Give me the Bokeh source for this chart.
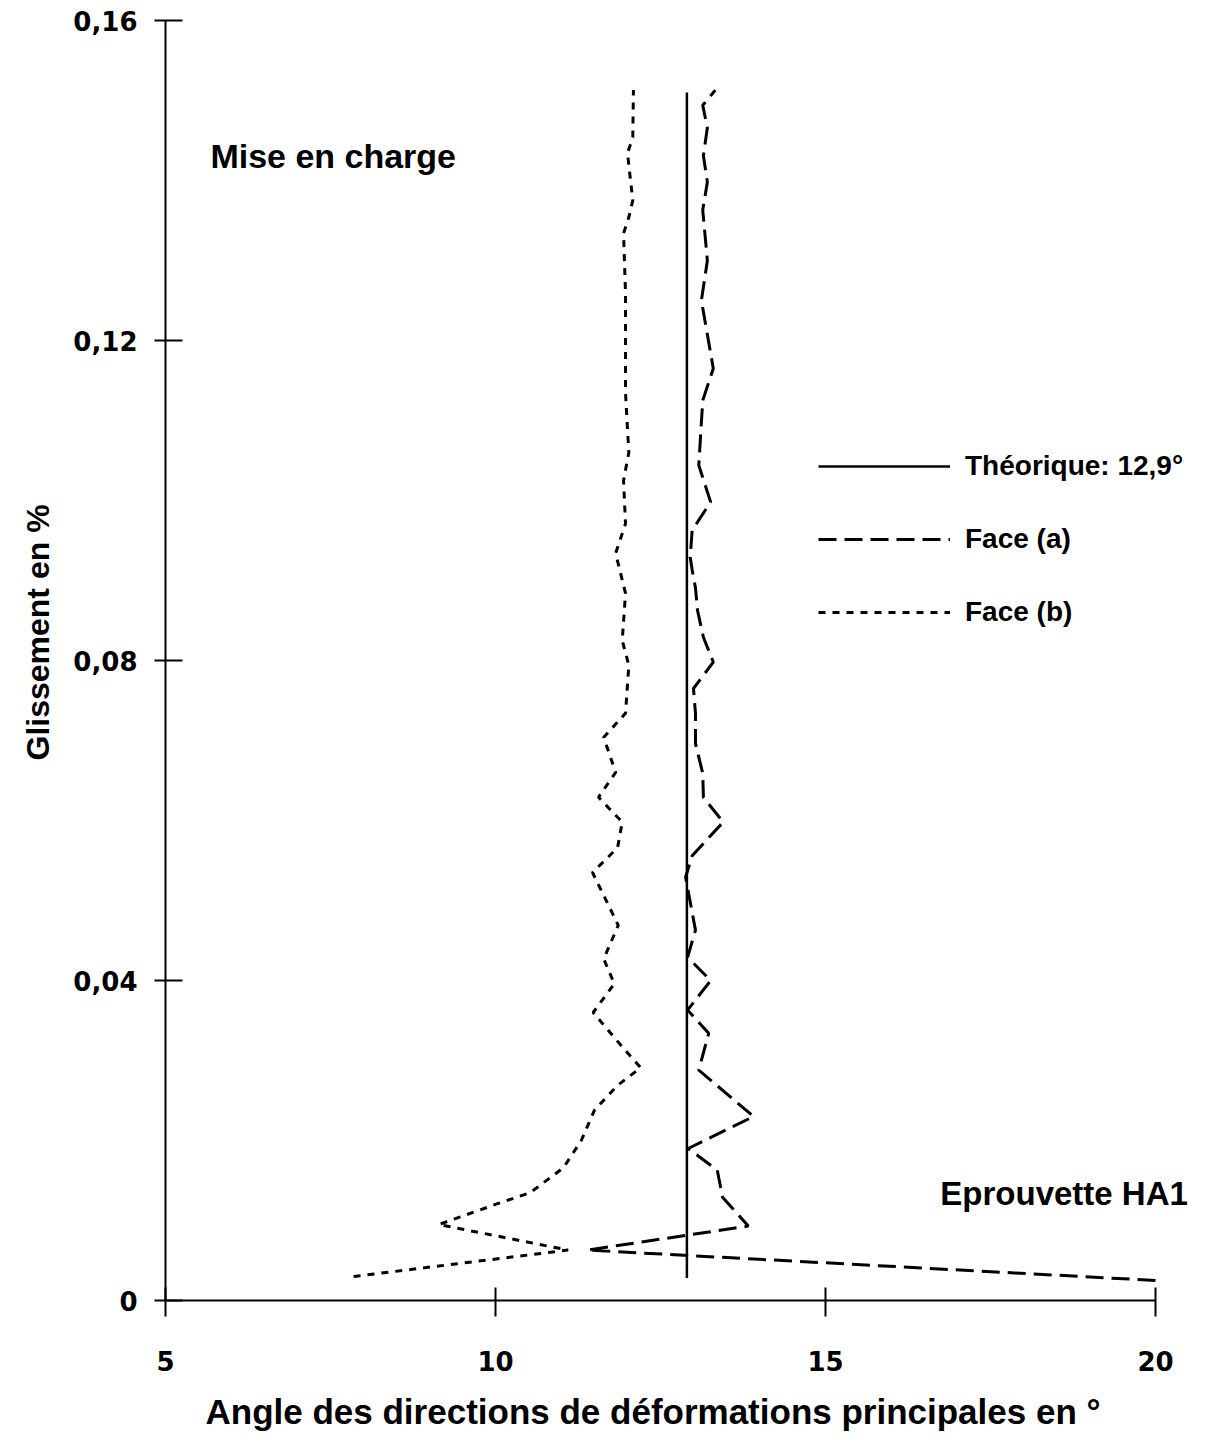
from bokeh.plotting import figure
from bokeh.models import Range1d, FixedTicker, Label, Legend, LegendItem, Title
from bokeh.embed import file_html
from bokeh.resources import INLINE

# ---------------- data ----------------
theo_angle = [12.9, 12.9]
theo_glis = [0.0028, 0.151]

face_a_angle = [20.0, 11.39, 13.83, 13.44, 13.36, 12.92, 13.91, 13.08, 13.23, 12.91,
                13.26, 12.91, 13.03, 12.88, 12.98, 13.45, 13.15, 13.14, 13.03, 13.03,
                13.00, 13.30, 13.15, 13.06, 13.03, 12.98, 12.95, 12.98, 13.26, 13.08,
                13.14, 13.30, 13.12, 13.21, 13.14, 13.21, 13.15, 13.21, 13.14, 13.33]
face_a_glis = [0.0025, 0.0063, 0.0093, 0.0129, 0.0163, 0.0190, 0.0230, 0.0288, 0.0334, 0.0363,
               0.0400, 0.0429, 0.0463, 0.0529, 0.0556, 0.0598, 0.0629, 0.0659, 0.0696, 0.0734,
               0.0765, 0.0798, 0.0829, 0.0863, 0.0891, 0.0913, 0.0929, 0.0963, 0.0998, 0.1044,
               0.1125, 0.1165, 0.1250, 0.1300, 0.1363, 0.1398, 0.1431, 0.1466, 0.1494, 0.1513]

face_b_angle = [7.85, 11.10, 9.14, 10.03, 10.53, 11.03, 11.30, 11.50, 11.85, 12.20,
                11.90, 11.48, 11.80, 11.64, 11.86, 11.47, 11.85, 11.92, 11.56, 11.82,
                11.64, 11.97, 12.02, 11.92, 11.97, 11.82, 11.97, 11.94, 12.02, 11.97,
                11.97, 11.94, 12.02, 12.08, 12.00, 12.08, 12.09]
face_b_glis = [0.0030, 0.0063, 0.0095, 0.0121, 0.0135, 0.0166, 0.0200, 0.0238, 0.0269, 0.0291,
               0.0319, 0.0360, 0.0396, 0.0427, 0.0469, 0.0535, 0.0566, 0.0598, 0.0629, 0.0660,
               0.0704, 0.0734, 0.0794, 0.0825, 0.0884, 0.0934, 0.0971, 0.1025, 0.1060, 0.1134,
               0.1259, 0.1334, 0.1354, 0.1375, 0.1434, 0.1454, 0.1513]

x_ticks = [5, 10, 15, 20]
y_ticks = [0, 0.04, 0.08, 0.12, 0.16]
y_tick_labels = ["0", "0,04", "0,08", "0,12", "0,16"]

legend_labels = ["Théorique: 12,9°", "Face (a)", "Face (b)"]
x_title = "Angle des directions de déformations principales en °"
y_title = "Glissement en %"

FONT = "Liberation Sans"
TICK_FONT = "DejaVu Sans"

X0, X1 = 5, 20
Y0, Y1 = 0, 0.16
x_end = X1 + 53 / 66.0   # room on the right for the texts

p = figure(width=1208, height=1448, output_backend="svg", toolbar_location=None,
           x_range=Range1d(X0, x_end), y_range=Range1d(Y0, Y1),
           min_border_left=165, min_border_right=0, min_border_top=20, min_border_bottom=148)
p.outline_line_color = None
p.xgrid.visible = False
p.ygrid.visible = False
p.background_fill_color = "white"
p.border_fill_color = "white"

# x axis
xa = p.xaxis[0]
xa.ticker = FixedTicker(ticks=x_ticks)
xa.bounds = (X0, X1)
xa.minor_tick_line_color = None
xa.major_tick_in = 13
xa.major_tick_out = 16
xa.axis_line_width = 2
xa.major_tick_line_width = 2
xa.axis_line_color = "black"
xa.major_tick_line_color = "black"
xa.major_label_text_font = TICK_FONT
xa.major_label_text_font_style = "bold"
xa.major_label_text_font_size = "26px"
xa.major_label_text_color = "black"
xa.major_label_standoff = 34

# y axis
ya = p.yaxis[0]
ya.ticker = FixedTicker(ticks=y_ticks)
ya.major_label_overrides = {t: l for t, l in zip(y_ticks, y_tick_labels)}
ya.minor_tick_line_color = None
ya.major_tick_in = 17
ya.major_tick_out = 11
ya.axis_line_width = 2
ya.major_tick_line_width = 2
ya.axis_line_color = "black"
ya.major_tick_line_color = "black"
ya.major_label_text_font = TICK_FONT
ya.major_label_text_font_style = "bold"
ya.major_label_text_font_size = "26px"
ya.major_label_text_color = "black"
ya.major_label_standoff = 17

p.add_layout(Title(text=x_title, align="left", offset=40, standoff=32,
                   text_font=FONT, text_font_style="bold", text_font_size="35px",
                   text_color="black"), "below")
p.add_layout(Title(text=y_title, align="left", offset=540, standoff=30,
                   text_font=FONT, text_font_style="bold", text_font_size="32px",
                   text_color="black"), "left")

r_theo = p.line(theo_angle, theo_glis, line_color="black", line_width=2.5)
r_a = p.line(face_a_angle, face_a_glis, line_color="black", line_width=3, line_dash="18 8")
r_b = p.line(face_b_angle, face_b_glis, line_color="black", line_width=3, line_dash="7 7")

legend = Legend(items=[LegendItem(label=legend_labels[0], renderers=[r_theo]),
                       LegendItem(label=legend_labels[1], renderers=[r_a]),
                       LegendItem(label=legend_labels[2], renderers=[r_b])],
                location=(653, 672), orientation="vertical",
                glyph_width=132, glyph_height=30, label_height=30,
                label_standoff=15, spacing=41, padding=0, margin=0,
                border_line_color=None, background_fill_alpha=0,
                label_text_font=FONT, label_text_font_style="bold",
                label_text_font_size="28px", label_text_color="black")
p.add_layout(legend)

p.add_layout(Label(x=5.68, y=0.1431, text="Mise en charge", text_font=FONT,
                   text_font_style="bold", text_font_size="34px", text_color="black",
                   text_baseline="middle", text_align="left"))
p.add_layout(Label(x=16.74, y=0.0134, text="Eprouvette HA1", text_font=FONT,
                   text_font_style="bold", text_font_size="33px", text_color="black",
                   text_baseline="middle", text_align="left"))

open("out.html", "w").write(file_html(p, INLINE))
